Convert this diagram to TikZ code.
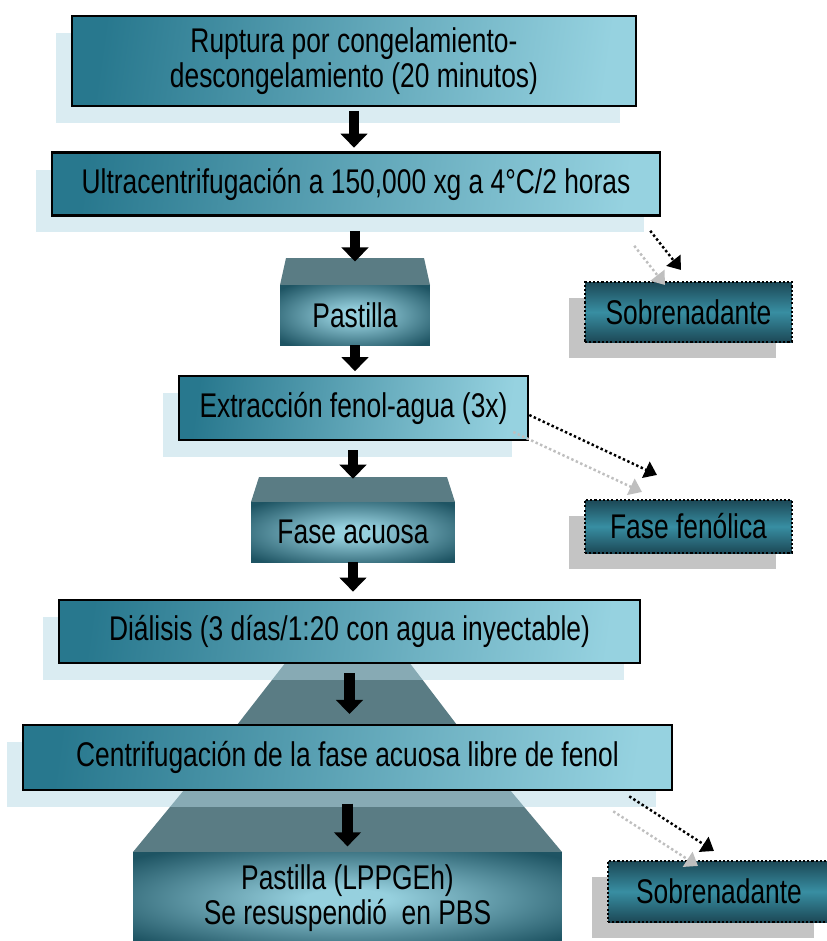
\documentclass[tikz,border=0pt]{standalone}
\usepackage{fontspec}
\setmainfont{Liberation Sans}[FakeStretch=0.77]
\usetikzlibrary{arrows.meta,shadows}

\definecolor{tealosc}{RGB}{40,120,142}
\definecolor{tealcla}{RGB}{150,210,224}
\definecolor{tapagris}{RGB}{90,124,132}
\definecolor{sombraazul}{RGB}{181,217,229}
\definecolor{sombragris}{RGB}{137,137,137}
\definecolor{centro}{RGB}{150,208,222}
\definecolor{borde}{RGB}{30,84,99}
\definecolor{restoosc}{RGB}{28,72,86}
\definecolor{restomed}{RGB}{56,142,162}
\pgfdeclareradialshading{suave}{\pgfpoint{0bp}{0bp}}{color(0bp)=(centro); color(5bp)=(centro); color(33bp)=(borde); color(70bp)=(borde)}

\begin{document}
\begin{tikzpicture}
    [x=0.02cm,y=-0.02cm,
     every node/.style={font=\fontsize{19.5pt}{20pt}\selectfont,align=center,inner sep=0pt},
     paso/.style={draw=black,line width=1.5pt,left color=tealosc,right color=tealcla,shading angle=82,
       drop shadow={shadow xshift=-0.32cm,shadow yshift=-0.34cm,fill=sombraazul,opacity=.5}},
     bloque/.style={shading=suave},
     tapa/.style={fill=tapagris},
     resto/.style={draw=black,line width=1.2pt,dash pattern=on 1.2pt off 1.2pt,
       top color=restoosc,bottom color=restoosc,middle color=restomed,
       drop shadow={shadow xshift=-0.32cm,shadow yshift=-0.32cm,fill=sombragris,opacity=.5}},
     flecha/.style={line width=6pt,-{Triangle[width=15pt,length=8pt]}},
     punteada/.style={line width=1.4pt,dash pattern=on 1.4pt off 1.4pt,-{Triangle[width=10pt,length=7pt]}},
     punteadagris/.style={punteada,black!25}]
    \useasboundingbox (0,0) rectangle (827,941);
    \clip (0,0) rectangle (827,941);
    \fill[tapa] (286,258) -- (424,258) -- (430,285) -- (280,285) -- cycle;
    \fill[tapa] (259,477) -- (447,477) -- (455,502) -- (251,502) -- cycle;
    \fill[tapa] (286,662) -- (409,662) -- (457,725) -- (237,725) -- cycle;
    \fill[tapa] (184,790) -- (510,790) -- (562,852) -- (133,852) -- cycle;
    \coordinate (t1) at (355,258);
    \coordinate (t2) at (353,477);
    \node[paso,minimum width=11.28cm,minimum height=1.8cm] (b1) at (354,61)
      {Ruptura por congelamiento-\\descongelamiento (20 minutos)};
    \node[paso,minimum width=12.16cm,minimum height=1.26cm] (b2) at (356,184)
      {Ultracentrifugación a 150,000 xg a 4°C/2 horas};
    \node[bloque,minimum width=3cm,minimum height=1.2cm] (p1) at (355,315) {Pastilla};
    \node[paso,minimum width=6.98cm,minimum height=1.28cm] (b3) at (353.5,408)
      {Extracción fenol-agua (3x)};
    \node[bloque,minimum width=4.08cm,minimum height=1.2cm] (p2) at (353,532) {Fase acuosa};
    \node[paso,minimum width=11.62cm,minimum height=1.26cm] (b4) at (349.5,631.5)
      {Diálisis (3 días/1:20 con agua inyectable)};
    \node[paso,minimum width=12.98cm,minimum height=1.3cm] (b5) at (347.5,757.5)
      {Centrifugación de la fase acuosa libre de fenol};
    \node[bloque,minimum width=8.58cm,minimum height=1.86cm] (p3) at (347.5,898.5)
      {Pastilla (LPPGEh)\\Se resuspendió\ \ en PBS};
    \node[resto,minimum width=4.14cm,minimum height=1.2cm] (s1) at (688.5,312) {Sobrenadante};
    \node[resto,minimum width=4.14cm,minimum height=1.06cm] (s2) at (688.5,526.5) {Fase fenólica};
    \node[resto,minimum width=4.44cm,minimum height=1.22cm] (s3) at (719,891.5) {Sobrenadante};
    \draw[flecha,shorten <=2pt,shorten >=2pt] (b1.south) -- (b1.south |- b2.north);
    \draw[flecha,shorten <=8pt,shorten >=-2pt] (t1 |- b2.south) -- (t1);
    \draw[flecha,shorten >=2pt] (p1.south) -- (p1.south |- b3.north);
    \draw[flecha,shorten <=5pt,shorten >=-1pt] (t2 |- b3.south) -- (t2);
    \draw[flecha,shorten >=4pt] (p2.south) -- (p2.south |- b4.north);
    \draw[flecha,shorten <=5pt,shorten >=5.5pt] (b4.south) -- (b4.south |- b5.north);
    \draw[flecha,shorten <=7pt,shorten >=3pt] (b5.south) -- (b5.south |- p3.north);
    \draw[punteadagris] ([shift={(-27,29)}]b2.south east) -- ([shift={(81,4)}]s1.north west);
    \draw[punteada] ([shift={(-11,14)}]b2.south east) -- ([shift={(97,-11)}]s1.north west);
    \draw[punteadagris] ([shift={(-16,24)}]b3.east) -- ([shift={(58,-7)}]s2.north west);
    \draw[punteada] ([shift={(0,7)}]b3.east) -- ([shift={(73,-24)}]s2.north west);
    \draw[punteadagris] ([shift={(-60,20)}]b5.south east) -- ([shift={(91,6)}]s3.north west);
    \draw[punteada] ([shift={(-44,5)}]b5.south east) -- ([shift={(107,-9)}]s3.north west);
  \end{tikzpicture}
\end{document}
